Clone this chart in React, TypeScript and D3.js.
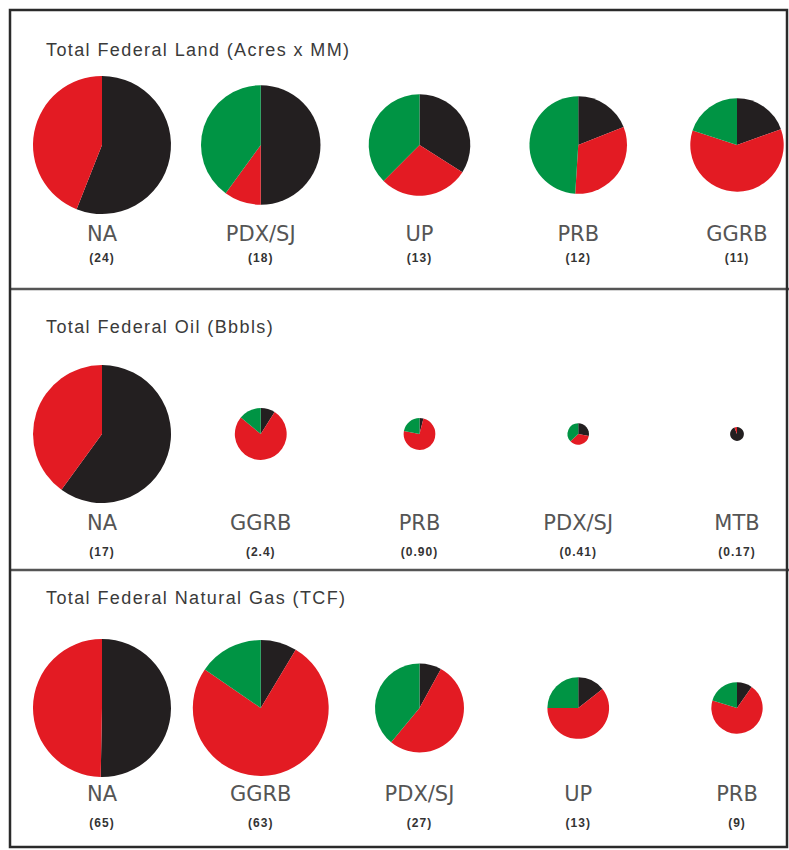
import React from 'react';
import * as d3 from 'd3';

// Share order in every pie: black, red, green (clockwise from 12 o'clock)
const sliceColors = ['#231f20', '#e31b23', '#009444'];

const landTitle = 'Total Federal Land (Acres x MM)';
const landRegions = ['NA', 'PDX/SJ', 'UP', 'PRB', 'GGRB'];
const landTotals = [24, 18, 13, 12, 11];
const landLabels = ['(24)', '(18)', '(13)', '(12)', '(11)'];
const landShares = [
  [56, 44, 0],
  [50, 10, 40],
  [34, 28.5, 37.5],
  [19, 32, 49],
  [19.5, 60.5, 20],
];

const oilTitle = 'Total Federal Oil (Bbbls)';
const oilRegions = ['NA', 'GGRB', 'PRB', 'PDX/SJ', 'MTB'];
const oilTotals = [17, 2.4, 0.9, 0.41, 0.17];
const oilLabels = ['(17)', '(2.4)', '(0.90)', '(0.41)', '(0.17)'];
const oilShares = [
  [60, 40, 0],
  [9, 77, 14],
  [4, 74, 22],
  [28, 35, 37],
  [94, 6, 0],
];

const gasTitle = 'Total Federal Natural Gas (TCF)';
const gasRegions = ['NA', 'GGRB', 'PDX/SJ', 'UP', 'PRB'];
const gasTotals = [65, 63, 27, 13, 9];
const gasLabels = ['(65)', '(63)', '(27)', '(13)', '(9)'];
const gasShares = [
  [50.3, 49.7, 0],
  [8.6, 76, 15.4],
  [8, 53, 39],
  [14.4, 60.6, 25],
  [9.7, 70, 20.3],
];

const W = 789;
const H = 850;

interface PanelProps {
  title: string;
  regions: string[];
  totals: number[];
  labels: string[];
  shares: number[][];
  titleY: number;
  pieY: number;
  nameY: number;
  valueY: number;
}

const pie = d3.pie<number>().sort(null).value((d) => d);

const Panel: React.FC<PanelProps> = ({ title, regions, totals, labels, shares, titleY, pieY, nameY, valueY }) => {
  const x = d3.scalePoint<number>().domain(d3.range(regions.length)).range([102, 737]);
  const r = d3.scaleSqrt().domain([0, d3.max(totals) || 1]).range([0, 69]);

  return (
    <g>
      <text x={46} y={titleY} fontFamily="Liberation Sans, Arial, sans-serif" fontSize={18}
        letterSpacing={1.4} fill="#3a3a3a">{title}</text>
      {regions.map((name, i) => {
        const arc = d3.arc<d3.PieArcDatum<number>>().innerRadius(0).outerRadius(r(totals[i]));
        return (
          <g key={name}>
            <g transform={`translate(${x(i)},${pieY})`}>
              {pie(shares[i]).map((s, j) => (
                <path key={j} d={arc(s) || ''} fill={sliceColors[j]} />
              ))}
            </g>
            <text x={x(i)} y={nameY} textAnchor="middle" fontFamily="DejaVu Sans, sans-serif"
              fontSize={21} fill="#555">{name}</text>
            <text x={x(i)} y={valueY} textAnchor="middle" fontFamily="Liberation Sans, Arial, sans-serif"
              fontSize={12} fontWeight="bold" letterSpacing={1} fill="#333">{labels[i]}</text>
          </g>
        );
      })}
    </g>
  );
};

export default function App() {
  return (
    <svg width={W} height={H} style={{ position: 'absolute', left: 0, top: 0, background: '#fff' }}>
      <rect x={0} y={0} width={W} height={H} fill="#fff" />
      <Panel title={landTitle} regions={landRegions} totals={landTotals} labels={landLabels}
        shares={landShares} titleY={56} pieY={145} nameY={241} valueY={262} />
      <Panel title={oilTitle} regions={oilRegions} totals={oilTotals} labels={oilLabels}
        shares={oilShares} titleY={333} pieY={434} nameY={530} valueY={556} />
      <Panel title={gasTitle} regions={gasRegions} totals={gasTotals} labels={gasLabels}
        shares={gasShares} titleY={604} pieY={708} nameY={801} valueY={827} />
      <line x1={10} x2={789} y1={289} y2={289} stroke="#555" strokeWidth={2.5} />
      <line x1={10} x2={789} y1={570} y2={570} stroke="#555" strokeWidth={2.5} />
      <rect x={10} y={10} width={777} height={837} fill="none" stroke="#2a2a2a" strokeWidth={2.5} />
    </svg>
  );
}
